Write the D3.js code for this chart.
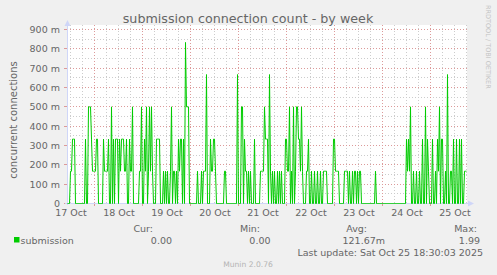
<!DOCTYPE html>
<html>
<head>
<meta charset="utf-8">
<script src="https://cdn.jsdelivr.net/npm/d3@7/dist/d3.min.js"></script>
<style>
  html, body { margin: 0; padding: 0; background: #f0f0f0; }
  svg { display: block; font-family: 'DejaVu Sans', sans-serif; }
</style>
</head>
<body>
<svg id="canvas"></svg>
<script>
// concurrent connections, in milli units, one sample per 30 min
const oct17 = [0,0,0,167,167,333,333,333,0,0,0,0,0,0,0,0,0,0,333,0,0,500,500,500,333,167,167]; // from 10:30
const oct18 = [167,167,333,333,0,0,0,0,0,333,167,167,167,167,333,0,0,500,0,333,0,333,333,333,0,333,167,333,333,333,167,167,333,0,0,333,167,167,500,0,0,0,0,0,0,167,167,500];
const oct19 = [0,0,333,167,500,0,167,500,167,500,167,0,0,0,333,333,333,333,0,0,0,167,0,167,0,167,0,0,167,500,0,167,167,0,167,0,333,167,333,333,0,333,0,833,500,500,500,0];
const oct20 = [0,0,0,0,0,0,0,167,0,0,0,167,0,167,167,167,667,0,0,0,333,167,167,333,333,167,0,0,0,0,0,0,0,0,167,167,0,0,0,0,0,0,0,0,0,0,0,667];
const oct21 = [0,0,0,500,500,0,333,167,167,0,167,0,167,0,0,0,333,0,0,0,0,0,167,167,167,167,500,333,333,333,0,667,167,0,167,0,167,0,0,167,0,167,0,167,0,0,0,333];
const oct22 = [333,167,167,500,0,167,0,500,0,167,500,500,333,333,167,500,167,0,0,0,167,167,333,0,0,167,0,0,167,0,0,167,0,0,167,0,0,167,167,167,167,0,0,0,0,0,0,333];
const oct23 = [333,167,167,167,167,0,0,0,0,0,167,167,167,167,0,167,0,0,167,0,167,167,0,167,0,167,167,0,0,0,0,0,0,0,0,0,0,0,0,0,0,167,0,0,0,0,0,0];
const oct24 = [0,0,0,0,0,0,0,0,0,0,0,0,0,0,0,0,0,0,0,0,0,0,0,0,333,167,333,167,500,0,0,167,0,0,167,0,0,167,0,0,333,0,0,500,0,333,167,0];
const oct25 = [0,0,333,0,0,167,0,333,167,500,0,333,333,0,0,167,0,667,0,0,167,167,0,333,0,0,333,0,0,333,0,333,0,0,167,167,167]; // to 18:00

const dayLabels = ['17 Oct', '18 Oct', '19 Oct', '20 Oct', '21 Oct', '22 Oct', '23 Oct', '24 Oct', '25 Oct'];
const yTickValues = [0, 100, 200, 300, 400, 500, 600, 700, 800, 900];
const yTickLabels = ['0', '100 m', '200 m', '300 m', '400 m', '500 m', '600 m', '700 m', '800 m', '900 m'];
const legendHeads = ['Cur:', 'Min:', 'Avg:', 'Max:'];
const legendValues = ['0.00', '0.00', '121.67m', '1.99'];

const width = 497, height = 275;
const plotLeft = 67, plotRight = 467, plotTop = 25, plotBottom = 203;
const lineColor = '#00cc00';
const fontColor = '#666666';
const axisColor = '#cfd6f8';

let canvas = d3.select('#canvas').attr('width', width).attr('height', height);

let days = [
  { start: new Date(2025, 9, 17, 10, 30), values: oct17 },
  { start: new Date(2025, 9, 18), values: oct18 },
  { start: new Date(2025, 9, 19), values: oct19 },
  { start: new Date(2025, 9, 20), values: oct20 },
  { start: new Date(2025, 9, 21), values: oct21 },
  { start: new Date(2025, 9, 22), values: oct22 },
  { start: new Date(2025, 9, 23), values: oct23 },
  { start: new Date(2025, 9, 24), values: oct24 },
  { start: new Date(2025, 9, 25), values: oct25 }
];
let samples = days.flatMap(day => day.values.map((v, i) => ({ t: d3.timeMinute.offset(day.start, i * 30), v: v })));

let x = d3.scaleTime()
  .domain([new Date(2025, 9, 17, 10, 30), new Date(2025, 9, 25, 18, 30)])
  .range([plotLeft + 0.5, plotRight + 0.5]);
let y = d3.scaleLinear()
  .domain([0, 900])
  .range([plotBottom + 0.5, 29.5]);

let crisp = v => Math.round(v - 0.5) + 0.5;

// plot background
canvas.append('rect')
  .attr('x', plotLeft).attr('y', plotTop)
  .attr('width', plotRight - plotLeft).attr('height', plotBottom - plotTop)
  .attr('fill', '#ffffff');

// grid
let grid = canvas.append('g').attr('stroke-width', 1).attr('stroke-dasharray', '1,2');
let sixHours = d3.timeHour.every(6).range(x.domain()[0], x.domain()[1]);

grid.selectAll('.minor-x')
  .data(sixHours.filter(d => d.getHours() !== 0))
  .enter().append('line')
  .attr('x1', d => crisp(x(d))).attr('x2', d => crisp(x(d)))
  .attr('y1', plotTop).attr('y2', plotBottom)
  .attr('stroke', '#cccccc');

grid.selectAll('.minor-y')
  .data(d3.range(50, 900, 100))
  .enter().append('line')
  .attr('x1', plotLeft).attr('x2', plotRight)
  .attr('y1', d => crisp(y(d))).attr('y2', d => crisp(y(d)))
  .attr('stroke', '#cccccc');

grid.selectAll('.major-x')
  .data(sixHours.filter(d => d.getHours() === 0))
  .enter().append('line')
  .attr('x1', d => crisp(x(d))).attr('x2', d => crisp(x(d)))
  .attr('y1', plotTop).attr('y2', plotBottom)
  .attr('stroke', '#dc9a9a');

grid.selectAll('.major-y')
  .data(yTickValues.filter(d => d > 0))
  .enter().append('line')
  .attr('x1', plotLeft).attr('x2', plotRight)
  .attr('y1', d => crisp(y(d))).attr('y2', d => crisp(y(d)))
  .attr('stroke', '#dc9a9a');

// small ticks outside the axes
canvas.selectAll('.tick-x')
  .data(sixHours.filter(d => d.getHours() === 0))
  .enter().append('line')
  .attr('x1', d => crisp(x(d))).attr('x2', d => crisp(x(d)))
  .attr('y1', plotBottom).attr('y2', plotBottom + 3)
  .attr('stroke', '#dc9a9a');

canvas.selectAll('.tick-y')
  .data(yTickValues)
  .enter().append('line')
  .attr('x1', plotLeft - 3).attr('x2', plotLeft)
  .attr('y1', d => crisp(y(d))).attr('y2', d => crisp(y(d)))
  .attr('stroke', '#dc9a9a');

// axes lines + arrows
canvas.append('line')
  .attr('x1', plotLeft - 2).attr('x2', plotRight + 2)
  .attr('y1', plotBottom + 0.5).attr('y2', plotBottom + 0.5)
  .attr('stroke', axisColor);
canvas.append('line')
  .attr('x1', plotLeft + 0.5).attr('x2', plotLeft + 0.5)
  .attr('y1', plotBottom + 2).attr('y2', plotTop - 1)
  .attr('stroke', axisColor);
canvas.append('path')
  .attr('d', `M${plotRight + 1},${plotBottom - 2.5}L${plotRight + 7},${plotBottom + 0.5}L${plotRight + 1},${plotBottom + 3.5}Z`)
  .attr('fill', axisColor);
canvas.append('path')
  .attr('d', `M${plotLeft - 2.5},${plotTop + 1}L${plotLeft + 0.5},${plotTop - 5}L${plotLeft + 3.5},${plotTop + 1}Z`)
  .attr('fill', axisColor);

// data line
let line = d3.line()
  .x(d => x(d.t))
  .y(d => y(d.v));

canvas.append('path')
  .datum(samples)
  .attr('d', line)
  .attr('fill', 'none')
  .attr('stroke', lineColor)
  .attr('stroke-width', 1);

// axis labels
let xAxis = d3.axisBottom(x)
  .tickValues(dayLabels.map((d, i) => new Date(2025, 9, 17 + i, 12)))
  .tickFormat((d, i) => dayLabels[i])
  .tickSize(0)
  .tickPadding(6);

canvas.append('g')
  .attr('transform', `translate(0, ${plotBottom})`)
  .call(xAxis)
  .call(g => g.select('.domain').remove())
  .selectAll('text')
  .attr('fill', fontColor)
  .style('font-family', 'DejaVu Sans')
  .style('font-size', '9.5px');

let yAxis = d3.axisLeft(y)
  .tickValues(yTickValues)
  .tickFormat((d, i) => yTickLabels[i])
  .tickSize(0)
  .tickPadding(7);

canvas.append('g')
  .attr('transform', `translate(${plotLeft}, 0)`)
  .call(yAxis)
  .call(g => g.select('.domain').remove())
  .selectAll('text')
  .attr('fill', fontColor)
  .style('font-family', 'DejaVu Sans')
  .style('font-size', '9.5px');

// title and side texts
canvas.append('text')
  .attr('x', 248).attr('y', 22.5)
  .attr('text-anchor', 'middle')
  .attr('fill', fontColor)
  .style('font-size', '12.7px')
  .text('submission connection count - by week');

canvas.append('text')
  .attr('transform', `translate(16.5, ${(plotTop + plotBottom) / 2 + 6}) rotate(-90)`)
  .attr('text-anchor', 'middle')
  .attr('fill', fontColor)
  .style('font-size', '10px')
  .text('concurrent connections');

canvas.append('text')
  .attr('transform', 'translate(486, 5) rotate(90)')
  .attr('fill', '#c4c4c4')
  .style('font-size', '6.5px')
  .text('RRDTOOL / TOBI OETIKER');

// legend
canvas.append('rect')
  .attr('x', 14).attr('y', 237)
  .attr('width', 5.5).attr('height', 5.5)
  .attr('fill', lineColor);

canvas.append('text')
  .attr('x', 20.5).attr('y', 243.5)
  .attr('fill', fontColor)
  .style('font-size', '9.5px')
  .text('submission');

const headRight = [153, 260, 367, 477];
const valueRight = [172, 270.5, 385, 480];

canvas.selectAll('.legend-head')
  .data(legendHeads)
  .enter().append('text')
  .attr('x', (d, i) => headRight[i]).attr('y', 231.5)
  .attr('text-anchor', 'end')
  .attr('fill', fontColor)
  .style('font-size', '9.5px')
  .text(d => d);

canvas.selectAll('.legend-value')
  .data(legendValues)
  .enter().append('text')
  .attr('x', (d, i) => valueRight[i]).attr('y', 243.5)
  .attr('text-anchor', 'end')
  .attr('fill', fontColor)
  .style('font-size', '9.5px')
  .text(d => d);

canvas.append('text')
  .attr('x', 483).attr('y', 255.5)
  .attr('text-anchor', 'end')
  .attr('fill', fontColor)
  .style('font-size', '9.5px')
  .text('Last update: Sat Oct 25 18:30:03 2025');

canvas.append('text')
  .attr('x', 248).attr('y', 267)
  .attr('text-anchor', 'middle')
  .attr('fill', '#b4b4b4')
  .style('font-size', '7.6px')
  .text('Munin 2.0.76');
</script>
</body>
</html>
